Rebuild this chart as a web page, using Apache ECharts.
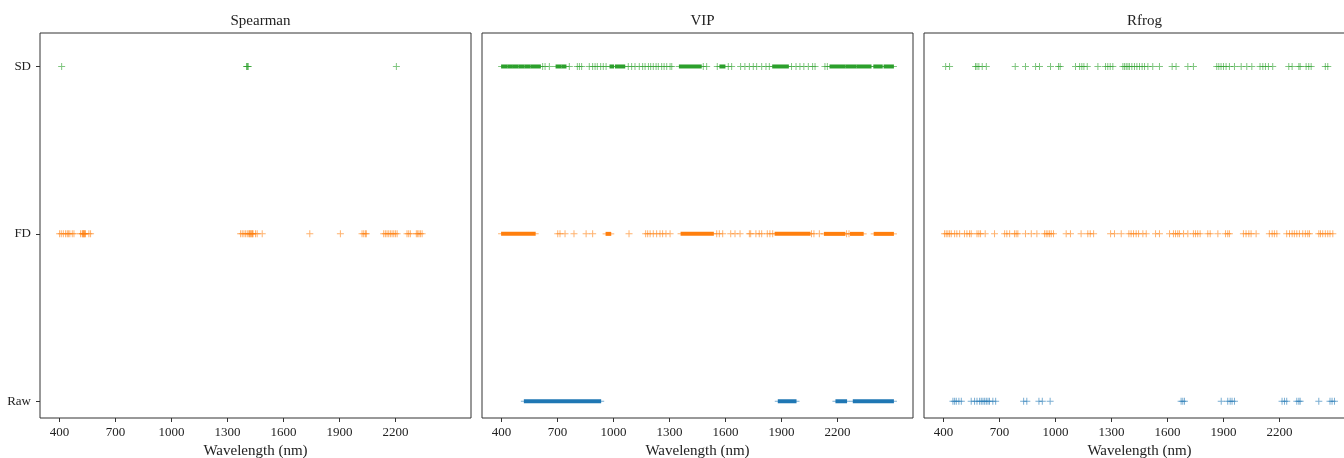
<!DOCTYPE html>
<html>
<head>
<meta charset="utf-8">
<script src="https://cdn.jsdelivr.net/npm/echarts@6/dist/echarts.min.js"></script>
<style>html,body{margin:0;padding:0;background:#fff}#c{width:1344px;height:458px}</style>
</head>
<body>
<div id="c"></div>
<script>
// ---- data (wavelengths in nm) ----
const panelTitles = ['Spearman', 'VIP', 'Rfrog'];
const rowLabels = ['Raw', 'FD', 'SD'];
const xTickValues = [400, 700, 1000, 1300, 1600, 1900, 2200];

// Spearman
const spearmanSD = [411, 1402, 1405, 1408, 1411, 2205];
const spearmanFD = [400, 409, 420, 432, 441, 447, 455, 468, 477, 512, 521, 524, 527, 530, 532, 535, 539, 557, 566,
  1370, 1379, 1388, 1397, 1406, 1414, 1418, 1422, 1426, 1430, 1434, 1437, 1450, 1459, 1486,
  1741, 1905, 2021, 2030, 2039, 2044,
  2137, 2146, 2155, 2164, 2173, 2182, 2191, 2200, 2209,
  2262, 2271, 2280, 2312, 2319, 2326, 2334, 2343];
const spearmanRaw = [];

// VIP (isolated points + contiguous selected ranges [start, end])
const vipSD = [620, 633, 656, 763, 806, 817, 829, 870, 888, 901, 913, 931, 945, 960,
  1079, 1097, 1115, 1138, 1156, 1169, 1187, 1199, 1213, 1228, 1240, 1258, 1271, 1285, 1303, 1312,
  1481, 1499, 1556, 1615, 1633, 1681, 1704, 1728, 1749, 1767, 1794, 1817, 1835,
  1954, 1978, 1999, 2020, 2044, 2067, 2080, 2133, 2146];
const vipSDRanges = [[400, 428], [433, 458], [463, 488], [493, 520], [525, 552], [557, 582], [587, 608],
  [692, 718], [723, 745], [981, 1000], [1010, 1060], [1353, 1470], [1570, 1597], [1853, 1937],
  [2160, 2240], [2245, 2300], [2305, 2380], [2395, 2440], [2450, 2500]];
const vipFD = [701, 713, 740, 788, 853, 888, 1083, 1172, 1183, 1196, 1213, 1231, 1249, 1263, 1281, 1303,
  1553, 1567, 1585, 1628, 1651, 1678, 1728, 1735, 1763, 1781, 1794, 1824, 1838, 1853,
  2061, 2074, 2103, 2249, 2262];
const vipFDRanges = [[400, 580], [960, 985], [1362, 1535], [1866, 2053], [2130, 2240], [2270, 2338], [2397, 2500]];
const vipRaw = [];
const vipRawRanges = [[522, 931], [1883, 1978], [2192, 2249], [2285, 2500]];

// Rfrog
const rfrogSD = [411, 432, 571, 579, 589, 607, 629, 784, 839, 893, 914, 973, 1016, 1025,
  1107, 1129, 1141, 1152, 1170, 1227, 1268, 1280, 1293, 1307,
  1361, 1370, 1379, 1388, 1396, 1409, 1423, 1436, 1450, 1464, 1477, 1495, 1521, 1557,
  1625, 1646, 1709, 1739, 1864, 1875, 1887, 1900, 1914, 1932, 1959, 1995, 2025, 2052,
  2096, 2111, 2125, 2141, 2164, 2250, 2268, 2304, 2311, 2343, 2357, 2370, 2446, 2459];
const rfrogFD = [405, 414, 423, 432, 441, 459, 471, 486, 512, 525, 539, 548, 579, 589, 598, 623, 673,
  727, 739, 754, 780, 789, 798, 839, 870, 900, 941, 950, 959, 968, 977, 989, 1057, 1080, 1137,
  1173, 1186, 1204, 1295, 1316, 1352, 1393, 1405, 1418, 1432, 1445, 1468, 1486, 1536, 1557,
  1611, 1632, 1643, 1655, 1664, 1686, 1709, 1739, 1750, 1762, 1775, 1816, 1829, 1870,
  1911, 1923, 1932, 2007, 2021, 2036, 2048, 2075, 2146, 2161, 2173, 2186,
  2239, 2254, 2268, 2280, 2293, 2307, 2325, 2339, 2352, 2361,
  2411, 2420, 2432, 2446, 2459, 2471, 2486];
const rfrogRaw = [450, 459, 468, 482, 495, 548, 566, 579, 593, 602, 611, 620, 629, 638, 646, 664, 679,
  829, 846, 911, 929, 971, 1673, 1682, 1691, 1888, 1923, 1936, 1946, 1959,
  2214, 2227, 2239, 2293, 2304, 2311, 2411, 2471, 2482, 2495];

// ---- styling ----
const FONT = '"Liberation Serif", "Times New Roman", serif';
const rowColors = ['#1f77b4', '#ff7f0e', '#2ca02c']; // Raw, FD, SD
const PLUS = 'path://M3,0 H4 V3 H7 V4 H4 V7 H3 V4 H0 V3 H3 Z';
const gridLefts = [40, 482, 924];
const gridW = 431, gridTop = 33, gridH = 385;

const panels = [
  {pts: [spearmanRaw, spearmanFD, spearmanSD], ranges: [[], [], []]},
  {pts: [vipRaw, vipFD, vipSD], ranges: [vipRawRanges, vipFDRanges, vipSDRanges]},
  {pts: [rfrogRaw, rfrogFD, rfrogSD], ranges: [[], [], []]}
];

const grid = [], xAxis = [], yAxis = [], title = [], series = [];
panels.forEach((p, i) => {
  grid.push({left: gridLefts[i], top: gridTop, width: gridW, height: gridH, show: true,
    borderColor: '#333', borderWidth: 1, backgroundColor: 'transparent', containLabel: false,
    outerBoundsMode: 'none'});
  title.push({text: panelTitles[i], left: gridLefts[i] + gridW / 2, top: 9, textAlign: 'center',
    textStyle: {fontFamily: FONT, fontSize: 15, fontWeight: 'normal', color: '#222'}});
  xAxis.push({type: 'value', gridIndex: i, min: 295, max: 2605, position: 'bottom',
    name: 'Wavelength (nm)', nameLocation: 'middle', nameGap: 23,
    nameTextStyle: {fontFamily: FONT, fontSize: 15, color: '#222'},
    axisLine: {show: false, onZero: false}, splitLine: {show: false},
    axisTick: {show: true, inside: false, length: 4, lineStyle: {color: '#333'}, customValues: xTickValues},
    axisLabel: {fontFamily: FONT, fontSize: 13, color: '#222', margin: 8, customValues: xTickValues,
      formatter: v => String(v)}});
  yAxis.push({type: 'value', gridIndex: i, min: -0.1, max: 2.2, position: 'left',
    axisLine: {show: false, onZero: false}, splitLine: {show: false},
    axisTick: {show: i === 0, inside: false, length: 4, lineStyle: {color: '#333'}, customValues: [0, 1, 2]},
    axisLabel: {show: i === 0, fontFamily: FONT, fontSize: 13, color: '#222', margin: 9, customValues: [0, 1, 2],
      formatter: v => rowLabels[Math.round(v)] || ''}});
  for (let r = 0; r < 3; r++) {
    const rng = p.ranges[r];
    if (rng.length) {
      series.push({type: 'custom', xAxisIndex: i, yAxisIndex: i, silent: true, clip: true,
        data: rng.map(d => [d[0], d[1], r]),
        renderItem: (params, api) => {
          const a = api.coord([api.value(0), api.value(2)]);
          const b = api.coord([api.value(1), api.value(2)]);
          return {type: 'group', children: [
            {type: 'rect', shape: {x: a[0] - 3.5, y: a[1] - 0.5, width: b[0] - a[0] + 7, height: 1},
              style: {fill: rowColors[r], opacity: 0.6}},
            {type: 'rect', shape: {x: a[0] - 0.5, y: a[1] - 2, width: b[0] - a[0] + 1, height: 4},
              style: {fill: rowColors[r]}}
          ]};
        }});
    }
    if (p.pts[r].length) {
      series.push({type: 'scatter', xAxisIndex: i, yAxisIndex: i, silent: true,
        symbol: PLUS, symbolSize: 7, symbolKeepAspect: true,
        itemStyle: {color: rowColors[r], opacity: 0.6},
        data: p.pts[r].map(w => [w, r])});
    }
  }
});

const chart = echarts.init(document.getElementById('c'), null, {renderer: 'canvas'});
chart.setOption({animation: false, backgroundColor: '#fff', title, grid, xAxis, yAxis, series});
</script>
</body>
</html>
